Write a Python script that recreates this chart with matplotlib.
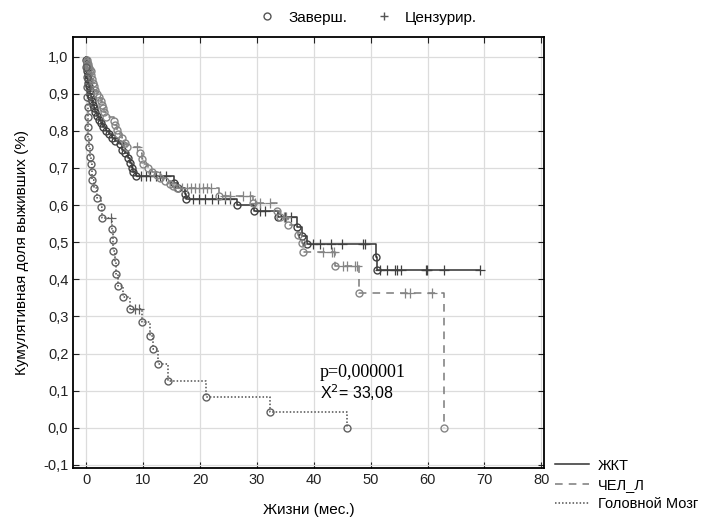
import numpy as np
import matplotlib
matplotlib.use("Agg")
import matplotlib.pyplot as plt
from matplotlib.lines import Line2D

plt.rcParams['font.family'] = ['Liberation Sans', 'DejaVu Sans']

# ---- data (months, cumulative survival) ----
gi_event_t = [0.05, 0.1, 0.15, 0.2, 0.25, 0.3, 0.35, 0.5, 0.6, 0.7, 0.9, 1.0, 1.2, 1.4, 1.6,
              1.9, 2.2, 2.6, 3.0, 3.5, 4.0, 4.5, 5.1, 6.0, 6.3, 6.9, 7.4, 7.7, 8.0, 8.3, 8.8,
              15.5, 16.2, 17.3, 17.6, 26.5, 29.5, 33.7, 37.0, 38.0, 38.8, 51.0, 51.2]
gi_event_s = [0.99, 0.98, 0.97, 0.96, 0.95, 0.94, 0.93, 0.92, 0.91, 0.90, 0.89, 0.88, 0.87, 0.86, 0.85,
              0.84, 0.83, 0.82, 0.81, 0.80, 0.79, 0.78, 0.772, 0.765, 0.747, 0.739, 0.726, 0.712, 0.70, 0.69, 0.677,
              0.66, 0.645, 0.63, 0.615, 0.600, 0.585, 0.568, 0.54, 0.516, 0.495, 0.46, 0.425]
gi_cens_t = [9.6, 10.5, 11.3, 12.2, 13.0, 14.0, 18.8, 19.8, 20.9, 22.1, 23.2, 24.4, 25.3,
             30.6, 31.5, 35.0, 36.0, 39.9, 41.1, 43.0, 45.0, 48.7, 49.0,
             51.7, 52.9, 54.2, 54.6, 55.4, 59.8, 59.9, 62.9, 69.2]

lung_event_t = [0.1, 0.2, 0.3, 0.4, 0.5, 0.6, 0.8, 0.9, 1.0, 1.2, 1.4, 1.6, 1.9, 2.3, 2.6, 2.8, 3.0,
                3.2, 3.4, 4.8, 5.1, 5.4, 5.6, 6.3, 6.9, 7.2, 9.5, 9.8, 10.0, 10.9, 11.6, 12.5, 13.0,
                13.9, 14.8, 15.3, 16.0, 23.3, 29.4, 33.5, 34.0, 35.5, 37.2, 38.0, 38.1, 43.8, 48.0, 62.9]
lung_event_s = [0.99, 0.985, 0.98, 0.975, 0.97, 0.965, 0.96, 0.95, 0.94, 0.93, 0.92, 0.91, 0.90, 0.89, 0.88, 0.87, 0.86,
                0.85, 0.838, 0.827, 0.815, 0.803, 0.792, 0.78, 0.768, 0.756, 0.74, 0.725, 0.71, 0.70, 0.69, 0.68, 0.672,
                0.665, 0.658, 0.652, 0.645, 0.624, 0.605, 0.585, 0.567, 0.545, 0.52, 0.497, 0.473, 0.435, 0.363, 0.0]
lung_cens_t = [8.9, 16.8, 17.7, 18.5, 19.2, 19.9, 20.6, 21.3, 22.0, 24.4, 25.3, 27.6, 28.8,
               29.7, 30.5, 32.3, 34.8, 35.2, 41.7, 43.2, 43.5, 45.2, 45.8, 47.3, 47.6, 56.0, 57.0, 60.8]

brain_event_t = [0.05, 0.1, 0.15, 0.2, 0.25, 0.3, 0.35, 0.4, 0.5, 0.6, 0.8, 1.0, 1.1, 1.4, 1.9,
                 2.6, 2.7, 4.6, 4.65, 4.7, 5.0, 5.3, 5.6, 6.5, 7.7, 9.8, 11.2, 11.8, 12.7, 14.4,
                 21.1, 32.3, 45.9]
brain_event_s = [0.973, 0.946, 0.919, 0.892, 0.865, 0.838, 0.811, 0.784, 0.757, 0.73, 0.71, 0.69, 0.667, 0.645, 0.62,
                 0.595, 0.565, 0.535, 0.505, 0.476, 0.446, 0.414, 0.382, 0.352, 0.32, 0.285, 0.248, 0.212, 0.172, 0.126,
                 0.084, 0.043, 0.0]
brain_cens_t = [4.4, 8.6, 9.3]

groups = [
    ("ЖКТ", gi_event_t, gi_event_s, gi_cens_t, '#303030', '#404040', '-'),
    ("ЧЕЛ_Л", lung_event_t, lung_event_s, lung_cens_t, '#7a7a7a', '#858585', (0, (5, 4))),
    ("Головной Мозг", brain_event_t, brain_event_s, brain_cens_t, '#505050', '#606060', (0, (1, 1.3))),
]


def km_value(ev_t, ev_s, t):
    idx = np.searchsorted(ev_t, t, side='right')
    vals = np.concatenate([[1.0], ev_s])
    return vals[idx]


fig = plt.figure(figsize=(7.03, 5.24), dpi=100)
ax = fig.add_axes([0.104, 0.107, 0.670, 0.822])

line_handles = []
for name, ev_t, ev_s, cens_t, lcol, mcol, ls in groups:
    ev_t = np.array(ev_t)
    ev_s = np.array(ev_s)
    end = max(ev_t.max(), max(cens_t))
    xs = np.concatenate([[0.0], ev_t, [end]])
    ys = np.concatenate([[1.0], ev_s, [ev_s[-1]]])
    h, = ax.step(xs, ys, where='post', color=lcol, linestyle=ls, lw=1.1, zorder=3)
    line_handles.append(h)
    ax.plot(ev_t, ev_s, 'o', ms=5, mfc='none', mec=mcol, mew=1.0, zorder=4)
    cy = km_value(ev_t, ev_s, np.array(cens_t))
    ax.plot(cens_t, cy, '+', ms=6.5, mec=mcol, mew=0.9, zorder=4)

ax.set_xlim(-2.3, 80.5)
ax.set_ylim(-0.108, 1.052)
ax.set_xticks(np.arange(0, 81, 10))
ax.set_yticks(np.arange(-0.1, 1.01, 0.1))
ax.set_yticklabels([f"{v:.1f}".replace('.', ',') for v in np.arange(-0.1, 1.01, 0.1)])
ax.grid(True, color='#dcdcdc', lw=0.9)
ax.set_axisbelow(True)
ax.tick_params(direction='in', length=4, top=True, right=True, labelsize=10.5, colors='#222222')
for sp in ax.spines.values():
    sp.set_linewidth(1.3)

ax.set_xlabel("Жизни (мес.)", fontsize=11, labelpad=12)
ax.set_ylabel("Кумулятивная доля выживших (%)", fontsize=11, labelpad=10)

ax.text(41.1, 0.15, "p=0,000001", family='Liberation Serif', fontsize=13, va='center', ha='left')
ax.text(41.1, 0.094, "X$^2$= 33,08", fontsize=11.5, va='center', ha='left')

top_handles = [
    Line2D([], [], marker='o', ls='none', ms=5, mfc='none', mec='#555555'),
    Line2D([], [], marker='+', ls='none', ms=6, mec='#555555'),
]
fig.legend(top_handles, ["Заверш.", "Цензурир."], loc='center', bbox_to_anchor=(0.518, 0.966),
           ncol=2, frameon=False, fontsize=11, handletextpad=0.4, columnspacing=1.4)

fig.legend(line_handles, [g[0] for g in groups], loc='upper left', bbox_to_anchor=(0.79, 0.125),
           frameon=False, fontsize=10.5, handlelength=2.3, handletextpad=0.6, labelspacing=0.35,
           borderaxespad=0, borderpad=0)

fig.savefig("out.png", dpi=100)
